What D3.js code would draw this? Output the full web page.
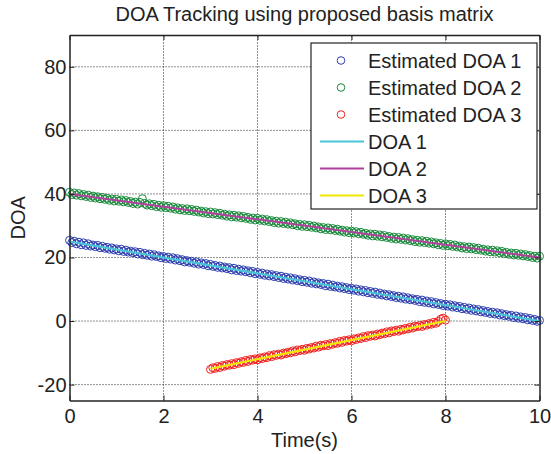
<!DOCTYPE html>
<html>
<head>
<meta charset="utf-8">
<script src="https://cdn.jsdelivr.net/npm/d3@7"></script>
<style>
  body { margin: 0; background: #fff; }
  text { font-family: "Liberation Sans", Arial, sans-serif; fill: #222; }
</style>
</head>
<body>
<div id="chart"></div>
<script>
// time step of the estimates
const dt = 0.05;

// estimated DOA 1, t = 0 .. 10
const est1 = [25.4, 24.7, 25.1, 24.3, 24.8, 24.0, 24.6, 23.8, 24.3, 23.6,
  23.9, 23.4, 23.8, 23.1, 23.5, 22.9, 23.2, 22.6, 23.0, 22.4,
  22.7, 22.1, 22.6, 21.9, 22.3, 21.7, 22.0, 21.5, 21.8, 21.1,
  21.6, 20.9, 21.3, 20.7, 21.1, 20.4, 20.8, 20.3, 20.5, 19.9,
  20.3, 19.7, 20.1, 19.5, 19.9, 19.2, 19.6, 19.0, 19.3, 18.6,
  19.0, 18.5, 18.8, 18.2, 18.6, 17.9, 18.3, 17.8, 18.1, 17.4,
  17.8, 17.2, 17.5, 16.9, 17.3, 16.7, 17.0, 16.5, 16.8, 16.1,
  16.6, 15.9, 16.3, 15.7, 16.1, 15.5, 15.8, 15.2, 15.6, 14.9,
  15.3, 14.7, 15.1, 14.4, 14.8, 14.2, 14.6, 14.0, 14.3, 13.7,
  14.1, 13.4, 13.8, 13.2, 13.6, 12.9, 13.3, 12.7, 13.0, 12.4,
  12.8, 12.2, 12.6, 11.9, 12.3, 11.7, 12.0, 11.5, 11.8, 11.1,
  11.6, 10.9, 11.3, 10.7, 11.0, 10.4, 10.8, 10.2, 10.5, 9.9,
  10.3, 9.7, 10.1, 9.4, 9.8, 9.2, 9.6, 8.9, 9.3, 8.7,
  9.1, 8.4, 8.8, 8.2, 8.5, 7.9, 8.3, 7.7, 8.0, 7.4,
  7.8, 7.2, 7.6, 6.9, 7.3, 6.7, 7.0, 6.5, 6.8, 6.1,
  6.6, 5.9, 6.3, 5.7, 6.1, 5.4, 5.8, 5.2, 5.5, 4.9,
  5.3, 4.7, 5.1, 4.4, 4.8, 4.2, 4.6, 3.9, 4.3, 3.7,
  4.1, 3.4, 3.8, 3.2, 3.6, 2.9, 3.3, 2.7, 3.0, 2.4,
  2.8, 2.2, 2.6, 1.9, 2.3, 1.7, 2.0, 1.5, 1.8, 1.1,
  1.6, 0.9, 1.3, 0.7, 1.1, 0.4, 0.8, 0.2, 0.5, -0.1,
  0.2];

// estimated DOA 2, t = 0 .. 10
const est2 = [40.5, 39.8, 40.3, 39.6, 40.1, 39.4, 39.8, 39.2, 39.6, 38.9,
  39.3, 38.7, 39.1, 38.5, 38.9, 38.3, 38.6, 38.0, 38.4, 37.8,
  38.3, 37.7, 38.1, 37.5, 37.9, 37.3, 37.6, 37.0, 37.4, 36.8,
  37.3, 38.5, 37.0, 36.5, 36.9, 36.3, 36.7, 36.0, 36.4, 35.8,
  36.3, 35.7, 36.1, 35.5, 35.9, 35.2, 35.6, 35.0, 35.4, 34.8,
  35.3, 34.7, 35.1, 34.5, 34.9, 34.3, 34.6, 34.0, 34.4, 33.8,
  34.3, 33.7, 34.1, 33.5, 33.9, 33.3, 33.6, 33.0, 33.4, 32.8,
  33.3, 32.7, 33.1, 32.5, 32.9, 32.3, 32.6, 32.0, 32.4, 31.8,
  32.3, 31.7, 32.1, 31.5, 31.9, 31.3, 31.6, 31.0, 31.4, 30.8,
  31.3, 30.7, 31.1, 30.5, 30.9, 30.3, 30.6, 30.0, 30.4, 29.8,
  30.3, 29.7, 30.1, 29.5, 29.9, 29.3, 29.6, 29.0, 29.4, 28.8,
  29.3, 28.7, 29.1, 28.5, 28.9, 28.3, 28.6, 28.0, 28.4, 27.8,
  28.3, 27.7, 28.1, 27.5, 27.9, 27.3, 27.6, 27.0, 27.4, 26.8,
  27.3, 26.7, 27.1, 26.5, 26.9, 26.3, 26.6, 26.0, 26.4, 25.8,
  26.3, 25.7, 26.1, 25.5, 25.9, 25.3, 25.6, 25.0, 25.4, 24.8,
  25.3, 24.7, 25.1, 24.5, 24.9, 24.3, 24.6, 24.0, 24.4, 23.8,
  24.3, 23.7, 24.1, 23.5, 23.9, 23.3, 23.6, 23.0, 23.4, 22.8,
  23.3, 22.7, 23.1, 22.5, 22.9, 22.3, 22.6, 22.0, 22.4, 21.8,
  22.3, 21.7, 22.1, 21.5, 21.9, 21.3, 21.6, 21.0, 21.4, 20.8,
  21.3, 20.7, 21.1, 20.5, 20.9, 20.3, 20.6, 20.0, 20.4, 19.8,
  20.4];

// estimated DOA 3, t = 3 .. 8
const est3Start = 3;
const est3 = [-15.2, -14.7, -14.9, -14.3, -14.6, -14.0, -14.2, -13.7, -13.9, -13.4,
  -13.7, -13.1, -13.3, -12.8, -13.0, -12.4, -12.7, -12.1, -12.3, -11.9,
  -12.2, -11.6, -11.8, -11.3, -11.5, -10.9, -11.2, -10.6, -10.8, -10.4,
  -10.7, -10.1, -10.3, -9.8, -10.0, -9.4, -9.7, -9.1, -9.3, -8.9,
  -9.2, -8.6, -8.8, -8.3, -8.5, -7.9, -8.2, -7.6, -7.8, -7.4,
  -7.7, -7.1, -7.3, -6.8, -7.0, -6.4, -6.7, -6.1, -6.3, -5.9,
  -6.2, -5.6, -5.8, -5.3, -5.5, -4.9, -5.2, -4.6, -4.8, -4.4,
  -4.7, -4.1, -4.3, -3.8, -4.0, -3.4, -3.7, -3.1, -3.3, -2.9,
  -3.2, -2.6, -2.8, -2.3, -2.5, -1.9, -2.2, -1.6, -1.8, -1.4,
  -1.7, -1.1, -1.3, -0.8, -1.0, -0.4, -0.7, -0.1, 0.6, 0.9,
  0.3];

// true DOA tracks (start / end points)
const doa1 = [[0, 25], [10, 0]];
const doa2 = [[0, 40], [10, 20]];
const doa3 = [[3, -15], [8, 0]];

const xTicks = [0, 2, 4, 6, 8, 10];
const yTicks = [-20, 0, 20, 40, 60, 80];

const width = 551, height = 454;
const margin = { left: 69.5, right: 11.5, top: 35, bottom: 53.5 };

const svg = d3.select("#chart").append("svg")
    .attr("width", width)
    .attr("height", height);

const x = d3.scaleLinear().domain([0, 10]).range([margin.left, width - margin.right]);
const y = d3.scaleLinear().domain([-25, 90]).range([height - margin.bottom, margin.top]);

// grid
svg.append("g").selectAll("line").data(xTicks.slice(1, -1)).join("line")
    .attr("x1", d => x(d)).attr("x2", d => x(d))
    .attr("y1", y(-25)).attr("y2", y(90))
    .attr("stroke", "#222").attr("stroke-width", 1)
    .attr("stroke-dasharray", "1,2");
svg.append("g").selectAll("line").data(yTicks).join("line")
    .attr("x1", x(0)).attr("x2", x(10))
    .attr("y1", d => y(d)).attr("y2", d => y(d))
    .attr("stroke", "#222").attr("stroke-width", 1)
    .attr("stroke-dasharray", "1,2");

// estimated points
const series = [
  { vals: est1, t0: 0, color: "#2e3eae" },
  { vals: est2, t0: 0, color: "#178a3a" },
  { vals: est3, t0: est3Start, color: "#f02020" }
];
series.forEach(s => {
  svg.append("g").selectAll("circle").data(s.vals).join("circle")
      .attr("cx", (d, i) => x(s.t0 + i * dt))
      .attr("cy", d => y(d))
      .attr("r", 4)
      .attr("fill", "none")
      .attr("stroke", s.color)
      .attr("stroke-width", 1);
});

// true tracks
const line = d3.line().x(d => x(d[0])).y(d => y(d[1]));
const tracks = [
  { pts: doa1, color: "#48c6d8" },
  { pts: doa2, color: "#b0409c" },
  { pts: doa3, color: "#f2e600" }
];
tracks.forEach(t => {
  svg.append("path").datum(t.pts)
      .attr("d", line)
      .attr("fill", "none")
      .attr("stroke", t.color)
      .attr("stroke-width", 2);
});

// axes (box with inward ticks)
const fmt = d => String(d);
const xAxisB = d3.axisBottom(x).tickValues(xTicks).tickSizeInner(-5).tickSizeOuter(0).tickPadding(8).tickFormat(fmt);
const xAxisT = d3.axisTop(x).tickValues(xTicks).tickSizeInner(-5).tickSizeOuter(0).tickFormat("");
const yAxisL = d3.axisLeft(y).tickValues(yTicks).tickSizeInner(-5).tickSizeOuter(0).tickPadding(3).tickFormat(fmt);
const yAxisR = d3.axisRight(y).tickValues(yTicks).tickSizeInner(-5).tickSizeOuter(0).tickFormat("");

function styleAxis(g) {
  g.select(".domain").attr("stroke", "#222").attr("stroke-width", 1.5);
  g.selectAll(".tick line").attr("stroke", "#222");
  g.selectAll(".tick text").attr("font-size", 20).attr("fill", "#222")
      .attr("font-family", "Liberation Sans, Arial, sans-serif");
}

svg.append("g").attr("transform", `translate(0,${y(-25)})`).call(xAxisB).call(styleAxis);
svg.append("g").attr("transform", `translate(0,${y(90)})`).call(xAxisT).call(styleAxis);
svg.append("g").attr("transform", `translate(${x(0)},0)`).call(yAxisL).call(styleAxis);
svg.append("g").attr("transform", `translate(${x(10)},0)`).call(yAxisR).call(styleAxis);

// title and labels
svg.append("text")
    .attr("x", (x(0) + x(10)) / 2).attr("y", 21)
    .attr("text-anchor", "middle").attr("font-size", 20)
    .text("DOA Tracking using proposed basis matrix");

svg.append("text")
    .attr("x", (x(0) + x(10)) / 2).attr("y", 447)
    .attr("text-anchor", "middle").attr("font-size", 20)
    .text("Time(s)");

svg.append("text")
    .attr("transform", `translate(25,${(y(-25) + y(90)) / 2}) rotate(-90)`)
    .attr("text-anchor", "middle").attr("font-size", 20)
    .text("DOA");

// legend
const legendItems = [
  { label: "Estimated DOA 1", color: "#2e3eae", kind: "circle" },
  { label: "Estimated DOA 2", color: "#178a3a", kind: "circle" },
  { label: "Estimated DOA 3", color: "#f02020", kind: "circle" },
  { label: "DOA 1", color: "#48c6d8", kind: "line" },
  { label: "DOA 2", color: "#b0409c", kind: "line" },
  { label: "DOA 3", color: "#f2e600", kind: "line" }
];
const lg = svg.append("g").attr("transform", "translate(311,43)");
lg.append("rect").attr("width", 226).attr("height", 166)
    .attr("fill", "#fff").attr("stroke", "#222").attr("stroke-width", 1.2);
const rows = lg.selectAll("g").data(legendItems).join("g")
    .attr("transform", (d, i) => `translate(0,${17.5 + i * 27})`);
rows.filter(d => d.kind === "circle").append("circle")
    .attr("cx", 30).attr("cy", 0).attr("r", 3.8)
    .attr("fill", "none").attr("stroke", d => d.color);
rows.filter(d => d.kind === "line").append("line")
    .attr("x1", 9).attr("x2", 53).attr("y1", 0).attr("y2", 0)
    .attr("stroke", d => d.color).attr("stroke-width", 2);
rows.append("text")
    .attr("x", 57)
    .attr("y", 7).attr("font-size", 20)
    .text(d => d.label);
</script>
</body>
</html>
